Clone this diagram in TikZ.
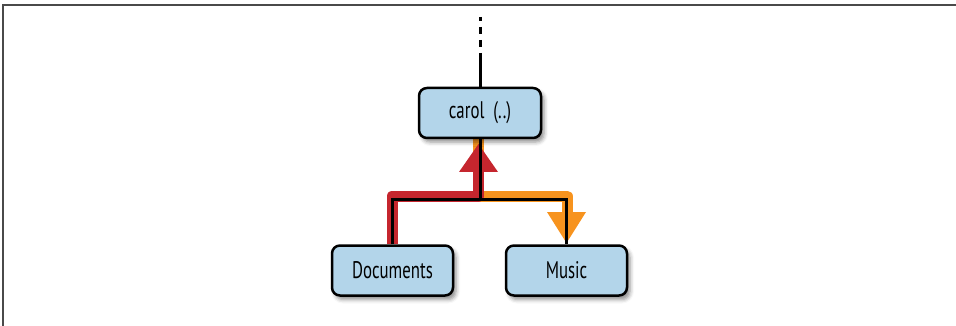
\documentclass[tikz,border=0pt]{standalone}
\usepackage{fontspec}
\newfontfamily\boxfont[FakeStretch=0.7]{PT Sans}
\usetikzlibrary{shadows.blur}
\pgfdeclarelayer{bg}
\pgfsetlayers{bg,main}
\definecolor{boxblue}{HTML}{B3D5EA}
\definecolor{redpath}{HTML}{C5262E}
\definecolor{orangepath}{HTML}{F7931E}
\definecolor{framegray}{HTML}{4A4A4A}
\tikzset{
  dirbox/.style={draw=black, line width=2.5pt, fill=boxblue, rounded corners=8pt,
    minimum width=121pt, minimum height=50pt, inner sep=0pt,
    font=\boxfont\fontsize{24}{28}\selectfont,
    blur shadow={shadow xshift=3pt, shadow yshift=-4pt, shadow blur radius=4pt, shadow opacity=45}},
  blackline/.style={draw=black, line width=3pt},
  movepath/.style={line width=11pt, line join=round},
  framestyle/.style={draw=framegray, line width=1.5pt}
}
\begin{document}
\begin{tikzpicture}[x=1pt,y=-1pt]
\useasboundingbox (0,0) rectangle (956,326);
% nodes
\node[dirbox, minimum width=122pt] (carol) at (480,113) {carol\ \ (..)};
\node[dirbox] (docs) at (392.5,270.5) {Documents};
\node[dirbox] (music) at (566.5,270.5) {Music};
% coordinates
\coordinate (top) at (480,17);
\coordinate (dashend) at (480,55);
\coordinate (j) at (480,199);
\coordinate (rj) at (392,196);
\coordinate (rc) at (478,196);
\coordinate (rbase) at (478,172);
\coordinate (rtip) at (478.5,144);
\coordinate (oc) at (567,196);
\coordinate (obase) at (567,212);
\coordinate (otip) at (566.5,243);
\begin{pgfonlayer}{bg}
\draw[framestyle] (3,326) -- (3,5) -- (956,5);
% orange path
\draw[orangepath, movepath] (carol.south -| rc) -- (rc) -- (oc) -- (obase);
\fill[orangepath] (547,212) -- (586,212) -- (otip) -- cycle;
% red path
\draw[redpath, movepath] (docs.north -| rj) -- (rj) -- (rc) -- (rbase);
\fill[redpath] (459,172) -- (498,172) -- (rtip) -- cycle;
% black lines
\draw[blackline] (docs.north) |- (j) -- (carol.south);
\draw[blackline] (j) -| (music.north);
\draw[blackline, dash pattern=on 4pt off 6pt on 7pt off 6pt on 7pt off 6pt] (top) -- (dashend);
\draw[blackline] (dashend) -- (carol.north);
\end{pgfonlayer}
\end{tikzpicture}
\end{document}
